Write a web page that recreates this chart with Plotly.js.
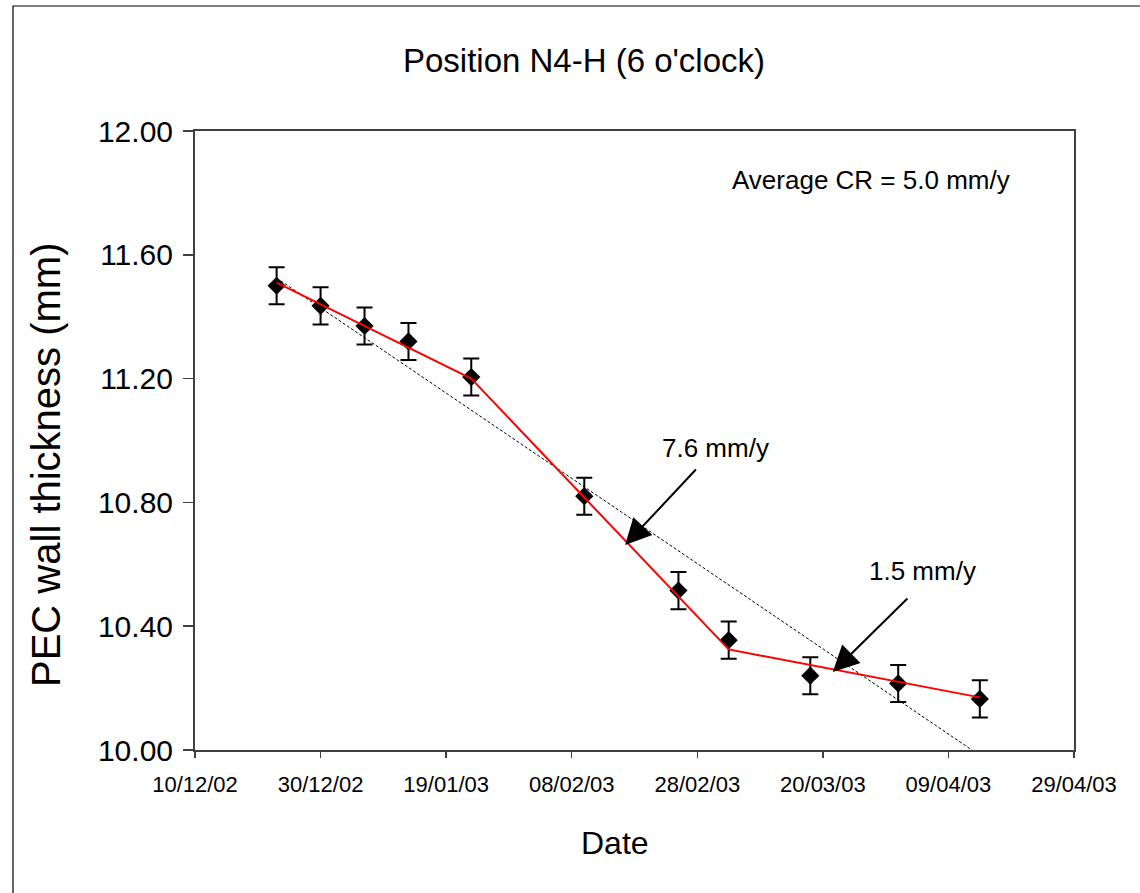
<!DOCTYPE html>
<html>
<head>
<meta charset="utf-8">
<script src="https://cdn.plot.ly/plotly-3.0.1.min.js"></script>
<style>html,body{margin:0;padding:0;background:#fff;}#chart{width:1140px;height:893px;}</style>
</head>
<body>
<div id="chart"></div>
<script>
// Measured points (date, PEC wall thickness in mm, error)
var dates = ['2002-12-23','2002-12-30','2003-01-06','2003-01-13','2003-01-23','2003-02-10','2003-02-25','2003-03-05','2003-03-18','2003-04-01','2003-04-14'];
var thickness = [11.50, 11.435, 11.37, 11.32, 11.205, 10.82, 10.515, 10.355, 10.24, 10.215, 10.165];
var errors = [0.06, 0.06, 0.06, 0.06, 0.06, 0.06, 0.06, 0.06, 0.06, 0.06, 0.06];

// Piecewise fit (red)
var fitDates = ['2002-12-23','2003-01-23','2003-03-05','2003-04-14'];
var fitValues = [11.51, 11.20, 10.325, 10.17];

// Average linear trend (dashed)
var trendDates = ['2002-12-23','2003-04-20'];
var trendValues = [11.525, 9.90];

// Arrow annotations: tail and tip
var arrow76 = {tailDate:'2003-02-28', tailVal:10.911, tipDate:'2003-02-16 12:00', tipVal:10.662};
var arrow15 = {tailDate:'2003-04-02 17:00', tailVal:10.494, tipDate:'2003-03-21 14:00', tipVal:10.252};

var FONT = 'Liberation Sans, Arial, sans-serif';

var traces = [
  {
    x: dates, y: thickness, type: 'scatter', mode: 'markers',
    marker: {symbol: 'diamond', size: 14, color: '#000'},
    error_y: {type: 'data', array: errors, visible: true, color: '#000', thickness: 2, width: 8},
    hoverinfo: 'x+y', showlegend: false
  },
  {
    x: trendDates, y: trendValues, type: 'scatter', mode: 'lines',
    line: {color: '#000', width: 1, dash: '3px,2px'}, showlegend: false, hoverinfo: 'skip'
  },
  {
    x: fitDates, y: fitValues, type: 'scatter', mode: 'lines',
    line: {color: '#ff0000', width: 2}, showlegend: false, hoverinfo: 'skip'
  }
];

var W = 879, H = 619; // plot area px
function px(xp){ return (xp - 195) / W; }
function py(yp){ return (750 - yp) / H; }

var layout = {
  width: 1140, height: 893,
  margin: {l: 195, r: 66, t: 131, b: 143},
  paper_bgcolor: '#fff', plot_bgcolor: '#fff',
  font: {family: FONT, color: '#000'},
  showlegend: false,
  title: {
    text: "Position N4-H (6 o'clock)",
    font: {family: FONT, size: 33, color: '#000'},
    xref: 'container', x: 584/1140, xanchor: 'center',
    yref: 'container', y: 1 - 60/893, yanchor: 'middle'
  },
  xaxis: {
    type: 'date',
    range: ['2002-12-10', '2003-04-29'],
    tick0: '2002-12-10', dtick: 20*86400000,
    tickformat: '%d/%m/%y',
    ticks: 'outside', ticklen: 6, tickwidth: 1.5, tickcolor: '#404040',
    showline: true, linecolor: '#404040', linewidth: 2, mirror: true,
    showgrid: false, zeroline: false,
    ticklabelstandoff: 8,
    tickfont: {family: FONT, size: 22, color: '#000'},
    title: {text: ''}
  },
  yaxis: {
    range: [10, 12],
    tick0: 10, dtick: 0.4, tickformat: '.2f',
    ticks: 'outside', ticklen: 10, tickwidth: 1.5, tickcolor: '#404040',
    showline: true, linecolor: '#404040', linewidth: 2, mirror: true,
    showgrid: false, zeroline: false,
    ticklabelstandoff: 4,
    tickfont: {family: FONT, size: 30, color: '#000'},
    title: {text: ''}
  },
  shapes: [
    {type: 'rect', xref: 'paper', yref: 'paper', x0: px(13), x1: px(1160), y0: py(910), y1: py(6),
     line: {color: '#000', width: 1.2}, fillcolor: 'rgba(0,0,0,0)', layer: 'above'}
  ],
  annotations: [
    {text: 'PEC wall thickness (mm)', xref: 'paper', yref: 'paper', x: px(46), y: py(465),
     textangle: -90, showarrow: false, font: {family: FONT, size: 40, color: '#000'}, xanchor: 'center', yanchor: 'middle'},
    {text: 'Date', xref: 'paper', yref: 'paper', x: px(615), y: py(843),
     showarrow: false, font: {family: FONT, size: 32, color: '#000'}, xanchor: 'center', yanchor: 'middle'},
    {text: 'Average CR = 5.0 mm/y', xref: 'paper', yref: 'paper', x: px(871), y: py(180),
     showarrow: false, font: {family: FONT, size: 26, color: '#000'}, xanchor: 'center', yanchor: 'middle'},
    {text: '7.6 mm/y', xref: 'paper', yref: 'paper', x: px(715), y: py(448),
     showarrow: false, font: {family: FONT, size: 26, color: '#000'}, xanchor: 'center', yanchor: 'middle'},
    {text: '1.5 mm/y', xref: 'paper', yref: 'paper', x: px(922), y: py(571),
     showarrow: false, font: {family: FONT, size: 26, color: '#000'}, xanchor: 'center', yanchor: 'middle'},
    {text: '', x: arrow76.tipDate, y: arrow76.tipVal, xref: 'x', yref: 'y',
     ax: arrow76.tailDate, ay: arrow76.tailVal, axref: 'x', ayref: 'y',
     showarrow: true, arrowhead: 2, arrowsize: 2.6, arrowwidth: 2, arrowcolor: '#000'},
    {text: '', x: arrow15.tipDate, y: arrow15.tipVal, xref: 'x', yref: 'y',
     ax: arrow15.tailDate, ay: arrow15.tailVal, axref: 'x', ayref: 'y',
     showarrow: true, arrowhead: 2, arrowsize: 2.6, arrowwidth: 2, arrowcolor: '#000'}
  ]
};

Plotly.newPlot('chart', traces, layout, {staticPlot: true, displayModeBar: false});
</script>
</body>
</html>
